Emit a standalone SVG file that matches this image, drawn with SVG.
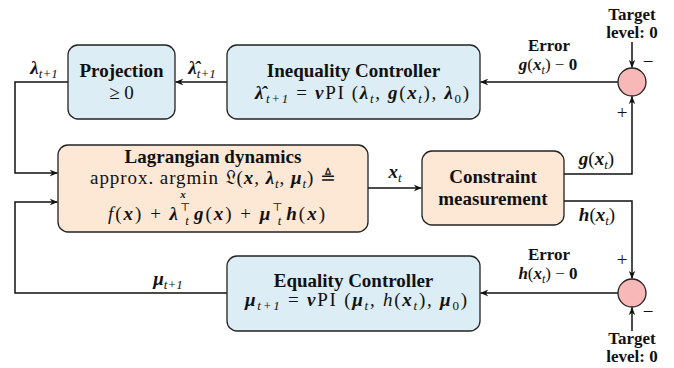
<svg xmlns="http://www.w3.org/2000/svg" width="674" height="368" viewBox="0 0 674 368" font-family="Liberation Serif, Times New Roman, DejaVu Serif, serif">
<style>
text{font-family:"Liberation Serif","Times New Roman","DejaVu Serif",serif;font-size:19px;fill:#111}
.lab{font-size:17px}
.ml{font-size:17px}
.b{font-weight:bold}
.m{font-style:italic}
.bm{font-weight:bold;font-style:italic}
.s{font-size:13px;font-style:italic;font-weight:normal}
.ml .s{font-size:12px}
.t{font-size:11px;font-style:normal;font-weight:normal}
.u{font-style:normal}
.blue{fill:#ddedf5;stroke:#222;stroke-width:1.3}
.peach{fill:#fde8d6;stroke:#222;stroke-width:1.3}
.sum{fill:#f8b8b8;stroke:#222;stroke-width:1.3}
.w{fill:none;stroke:#111;stroke-width:1.5}
</style>
<defs>
<marker id="a" viewBox="0 0 10 10" refX="9.5" refY="5" markerWidth="8" markerHeight="8" markerUnits="userSpaceOnUse" orient="auto">
<path d="M0,1 L10,5 L0,9 L3,5 Z" fill="#111"/>
</marker>
</defs>
<g id="connectors">
<path class="w" d="M618,82 H480.5" marker-end="url(#a)"/>
<path class="w" d="M227,82 H175.5" marker-end="url(#a)"/>
<path class="w" d="M68,82 H15 V173 H57.5" marker-end="url(#a)"/>
<path class="w" d="M227,293 H15 V202 H57.5" marker-end="url(#a)"/>
<path class="w" d="M618,293 H480.5" marker-end="url(#a)"/>
<path class="w" d="M368,188 H421.5" marker-end="url(#a)"/>
<path class="w" d="M564,174 H632 V96.5" marker-end="url(#a)"/>
<path class="w" d="M564,201 H632 V278.5" marker-end="url(#a)"/>
<path class="w" d="M632,42 V67.5" marker-end="url(#a)"/>
<path class="w" d="M632,331 V307.5" marker-end="url(#a)"/>
</g>
<g id="projection">
<rect class="blue" x="68" y="45" width="107" height="74" rx="10"/>
<text class="b" x="121.5" y="77" text-anchor="middle">Projection</text>
<text x="121.5" y="99" text-anchor="middle">≥ 0</text>
</g>
<g id="inequality-controller">
<rect class="blue" x="227" y="45" width="253" height="74" rx="10"/>
<text class="b" x="353.5" y="77" text-anchor="middle">Inequality Controller</text>
<text class="bm" x="255" y="99">λ̂</text>
<text x="266" y="99" textLength="203" lengthAdjust="spacing"><tspan class="s" baseline-shift="-4">t+1</tspan> = <tspan class="bm">ν</tspan>PI (<tspan class="bm">λ</tspan><tspan class="s" baseline-shift="-4">t</tspan>, <tspan class="bm">g</tspan>(<tspan class="bm">x</tspan><tspan class="s" baseline-shift="-4">t</tspan>), <tspan class="bm">λ</tspan><tspan class="s u" baseline-shift="-4">0</tspan>)</text>
</g>
<g id="lagrangian">
<rect class="peach" x="58" y="145" width="310" height="87" rx="10"/>
<text class="b" x="213" y="163" text-anchor="middle">Lagrangian dynamics</text>
<text x="90" y="184" textLength="246" lengthAdjust="spacing">approx. argmin 𝔏(<tspan class="bm">x</tspan>, <tspan class="bm">λ</tspan><tspan class="s" baseline-shift="-4">t</tspan>, <tspan class="bm">μ</tspan><tspan class="s" baseline-shift="-4">t</tspan>) ≜</text>
<text class="bm" x="183" y="198" text-anchor="middle" style="font-size:11px">x</text>
<text x="108" y="220" textLength="217" lengthAdjust="spacing"><tspan class="m">f</tspan>(<tspan class="bm">x</tspan>) + <tspan class="bm">λ</tspan><tspan class="t" baseline-shift="9">⊤</tspan><tspan class="s" dx="-7" baseline-shift="-5">t</tspan><tspan dx="3" class="bm">g</tspan>(<tspan class="bm">x</tspan>) + <tspan class="bm">μ</tspan><tspan class="t" baseline-shift="9">⊤</tspan><tspan class="s" dx="-7" baseline-shift="-5">t</tspan><tspan dx="3" class="bm">h</tspan>(<tspan class="bm">x</tspan>)</text>
</g>
<g id="constraint-measurement">
<rect class="peach" x="422" y="151" width="142" height="74" rx="10"/>
<text class="b" x="493" y="183" text-anchor="middle">Constraint</text>
<text class="b" x="493" y="205" text-anchor="middle">measurement</text>
</g>
<g id="equality-controller">
<rect class="blue" x="227" y="256" width="253" height="75" rx="10"/>
<text class="b" x="353.5" y="287" text-anchor="middle">Equality Controller</text>
<text x="245" y="306" textLength="222" lengthAdjust="spacing"><tspan class="bm">μ</tspan><tspan class="s" baseline-shift="-4">t+1</tspan> = <tspan class="bm">ν</tspan>PI (<tspan class="bm">μ</tspan><tspan class="s" baseline-shift="-4">t</tspan>, <tspan class="m">h</tspan>(<tspan class="bm">x</tspan><tspan class="s" baseline-shift="-4">t</tspan>), <tspan class="bm">μ</tspan><tspan class="s u" baseline-shift="-4">0</tspan>)</text>
</g>
<g id="sum-top">
<circle class="sum" cx="632" cy="82" r="14"/>
<text class="b lab" x="632" y="20" text-anchor="middle">Target</text>
<text class="b lab" x="632" y="38" text-anchor="middle">level: 0</text>
<text x="648" y="68" text-anchor="middle">−</text>
<text x="622" y="119" text-anchor="middle">+</text>
</g>
<g id="sum-bottom">
<circle class="sum" cx="632" cy="293" r="14"/>
<text class="b lab" x="632" y="344" text-anchor="middle">Target</text>
<text class="b lab" x="632" y="362" text-anchor="middle">level: 0</text>
<text x="648" y="318" text-anchor="middle">−</text>
<text x="622" y="266" text-anchor="middle">+</text>
</g>
<g id="labels">
<text x="44" y="74" text-anchor="middle"><tspan class="bm">λ</tspan><tspan class="s" baseline-shift="-4">t+1</tspan></text>
<text x="202" y="74" text-anchor="middle"><tspan class="bm">λ̂</tspan><tspan class="s" baseline-shift="-4">t+1</tspan></text>
<text class="b lab" x="549" y="51" text-anchor="middle">Error</text>
<text class="ml" x="548" y="70" text-anchor="middle"><tspan class="bm">g</tspan>(<tspan class="bm">x</tspan><tspan class="s" baseline-shift="-4">t</tspan>) − <tspan class="b">0</tspan></text>
<text x="395" y="178" text-anchor="middle"><tspan class="bm">x</tspan><tspan class="s" baseline-shift="-4">t</tspan></text>
<text x="596.5" y="165" text-anchor="middle"><tspan class="bm">g</tspan>(<tspan class="bm">x</tspan><tspan class="s" baseline-shift="-4">t</tspan>)</text>
<text x="597" y="221" text-anchor="middle"><tspan class="bm">h</tspan>(<tspan class="bm">x</tspan><tspan class="s" baseline-shift="-4">t</tspan>)</text>
<text class="b lab" x="549" y="260" text-anchor="middle">Error</text>
<text class="ml" x="548" y="279" text-anchor="middle"><tspan class="bm">h</tspan>(<tspan class="bm">x</tspan><tspan class="s" baseline-shift="-4">t</tspan>) − <tspan class="b">0</tspan></text>
<text x="168" y="285" text-anchor="middle"><tspan class="bm">μ</tspan><tspan class="s" baseline-shift="-4">t+1</tspan></text>
</g>
</svg>
